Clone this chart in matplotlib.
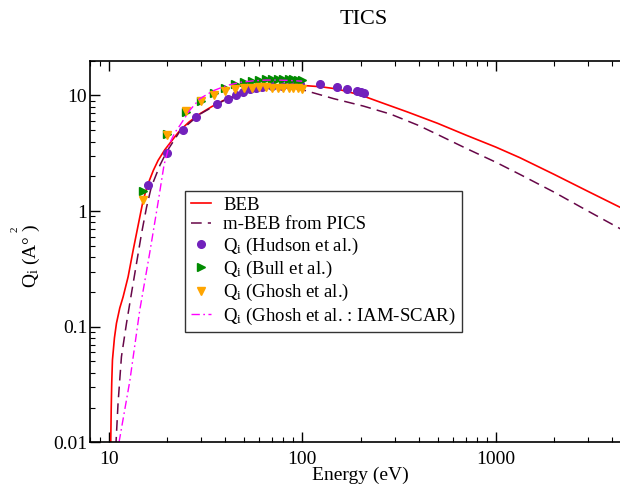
"""Total ionization cross sections (TICS): BEB curves vs. measured/calculated Q_i."""

import matplotlib
matplotlib.use("Agg")
import matplotlib.pyplot as plt

# ── data (energy in eV, cross section in A^2) ─────────────────────
beb_e = [10.22, 10.3, 10.36, 10.45, 10.7, 10.96, 11.4, 11.86, 12.59, 13.37,
         14.47, 15.06, 15.98, 17.0, 18.0, 19.5, 21.5, 23.3, 26.0, 29.6, 34.0,
         39.1, 45.0, 53.8, 63.0, 74.0, 86.0, 101.6, 125.0, 151.0, 200.0,
         253.0, 350.0, 500.0, 700.0, 1000.0, 1331.0, 2000.0, 3000.0, 4385.0, 5000.0]
beb_q = [0.008, 0.02, 0.0324, 0.0515, 0.08, 0.107, 0.145, 0.181, 0.27, 0.459,
         0.889, 1.24, 1.73, 2.25, 2.75, 3.4, 4.2, 4.98, 5.9, 6.95, 8.0,
         9.05, 10.0, 11.0, 11.6, 11.96, 12.15, 12.2, 11.9, 11.4, 10.1,
         8.75, 7.2, 5.75, 4.55, 3.58, 2.90, 2.08, 1.48, 1.08, 0.975]

mbeb_e = [10.87, 11.17, 11.63, 12.35, 13.1, 13.91, 14.77, 15.68, 16.6, 18.4,
          20.0, 23.3, 29.6, 39.1, 53.8, 74.0, 90.0, 103.5, 125.0, 145.0,
          207.0, 286.0, 400.0, 500.0, 700.0, 1000.0, 1331.0, 2000.0, 3000.0, 4385.0, 5000.0]
mbeb_q = [0.009, 0.0218, 0.055, 0.107, 0.194, 0.352, 0.64, 1.08, 1.62, 2.50,
          3.3, 4.9, 6.9, 9.0, 10.9, 11.8, 11.6, 11.04, 10.1, 9.4,
          8.1, 6.9, 5.5, 4.6, 3.5, 2.65, 2.08, 1.46, 1.0, 0.706, 0.63]

hudson_e = [16.0, 20.0, 24.2, 28.1, 36.1, 41.2, 45.2, 49.5, 54.0, 58.0,
            62.0, 70.0, 79.0, 87.0, 97.0, 123.0, 151.0, 171.0, 191.0, 201.0, 209.0]
hudson_q = [1.69, 3.17, 5.08, 6.5, 8.5, 9.36, 10.0, 10.7, 11.3, 11.7,
            11.8, 12.0, 12.2, 12.4, 12.5, 12.45, 11.96, 11.4, 10.9, 10.7, 10.5]

bull_e = [15, 20, 25, 30, 35, 40, 45, 50, 55, 60, 65, 70, 75, 80, 85, 90, 95, 100]
bull_q = [1.5, 4.6, 7.2, 9.05, 10.5, 11.65, 12.45, 13.0, 13.4, 13.7,
          13.8, 13.9, 13.9, 13.9, 13.8, 13.8, 13.7, 13.6]

ghosh_e = [15, 20, 25, 30, 35, 40, 45, 50, 55, 60, 65, 70, 75, 80, 85, 90, 95, 100]
ghosh_q = [1.24, 4.55, 7.3, 9.0, 10.1, 11.0, 11.4, 11.65, 11.7, 11.75,
           11.75, 11.7, 11.7, 11.6, 11.6, 11.5, 11.5, 11.4]

iam_e = [11.3, 12.85, 14.47, 16.3, 18.0, 19.3, 20.7, 22.0, 23.3, 26.3, 29.6,
         34.7, 40.7, 47.7, 55.9, 65.0, 75.0, 85.0, 100.0]
iam_q = [0.01, 0.034, 0.14, 0.44, 1.2, 2.5, 3.9, 4.8, 5.5, 7.5, 9.4,
         11.0, 12.2, 13.0, 13.4, 13.6, 13.6, 13.5, 13.3]

plt.rcParams["font.family"] = "Liberation Serif"
plt.rcParams["mathtext.fontset"] = "custom"
plt.rcParams["mathtext.rm"] = "Liberation Serif"
plt.rcParams["mathtext.it"] = "Liberation Serif:italic"

W, H = 620, 484
fig = plt.figure(figsize=(W / 100, H / 100), dpi=100)
# right edge of the frame runs past the canvas on purpose
ax = fig.add_axes([90 / W, 1 - 442.3 / H, (631 - 90) / W, (442.3 - 60.7) / H])

ax.plot(beb_e, beb_q, color="#ff0000", lw=1.2, label="BEB")
ax.plot(mbeb_e, mbeb_q, color="#670748", lw=1.1, dashes=(7, 4),
        label="m-BEB from PICS")
ax.plot(hudson_e, hudson_q, "o", color="#7221bc", ms=5.5, ls="none",
        label=r"Q$_\mathrm{i}$ (Hudson et al.)")
ax.plot(bull_e, bull_q, ">", color="#008b00", ms=6, ls="none",
        label=r"Q$_\mathrm{i}$ (Bull et al.)")
ax.plot(ghosh_e, ghosh_q, "v", color="#ffa500", ms=6, ls="none",
        label=r"Q$_\mathrm{i}$ (Ghosh et al.)")
ax.plot(iam_e, iam_q, color="#ff00ff", lw=1.0, dashes=(6, 2.5, 1.2, 2.5),
        label=r"Q$_\mathrm{i}$ (Ghosh et al. : IAM-SCAR)")

ax.set_xscale("log")
ax.set_yscale("log")
ax.set_xlim(8, 5000)
ax.set_ylim(0.01, 20)
ax.set_xticks([10, 100, 1000])
ax.set_xticklabels(["10", "100", "1000"])
ax.set_yticks([0.01, 0.1, 1, 10])
ax.set_yticklabels(["0.01", "0.1", "1", "10"])

ax.tick_params(which="both", direction="in", top=True, right=True, labelsize=14)
ax.tick_params(which="major", length=7, width=1.0)
ax.tick_params(which="minor", length=3.6, width=0.8)
ax.tick_params(axis="x", pad=6)
ax.tick_params(axis="y", pad=2)
for s in ax.spines.values():
    s.set_linewidth(1.2)

ax.set_xlabel("Energy (eV)", fontsize=14, labelpad=-1)
fig.text(31 / W, 1 - 256 / H, "Q$_\\mathrm{i}$ (A° )", rotation=90,
         ha="center", va="center", fontsize=14)
fig.text(15 / W, 1 - 229 / H, "2", rotation=90, ha="center", va="center",
         fontsize=8)
fig.text(364 / W, 1 - 20 / H, "TICS", ha="center", va="center", fontsize=16)

leg = ax.legend(loc="upper left", bbox_to_anchor=(185 / W, 1 - 191 / H),
                bbox_transform=fig.transFigure, borderaxespad=0,
                fontsize=13.5, frameon=True, fancybox=False,
                handlelength=1.1, handletextpad=0.65, labelspacing=0.12,
                borderpad=0.3, numpoints=1)
leg.get_frame().set_edgecolor("black")
leg.get_frame().set_linewidth(1.0)

fig.savefig("out.png", dpi=100)
